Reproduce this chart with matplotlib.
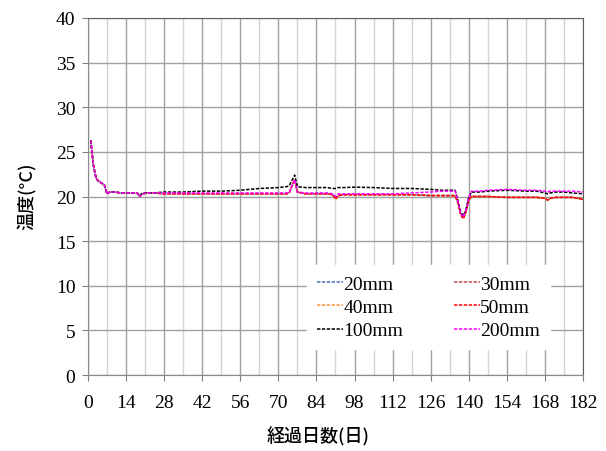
import matplotlib
matplotlib.use('Agg')
import matplotlib.pyplot as plt

days = [1, 2, 3, 4, 5, 6, 7, 8, 10, 12, 14, 16, 18, 19, 20,
        22, 24, 28, 35, 42, 49, 56, 63, 70,
        73, 74, 75, 76, 77, 80, 84, 88, 90, 91, 92, 94, 98,
        105, 112, 119, 126, 130, 134, 135, 136, 137, 138, 139, 140, 141,
        144, 147, 154, 161, 165, 168, 169, 170, 172, 175, 178, 182]

t20 = [26.2, 23.4, 22.0, 21.7, 21.5, 21.3, 20.3, 20.5, 20.5, 20.4, 20.4, 20.4, 20.4, 20.0, 20.3,
       20.4, 20.4, 20.3, 20.3, 20.3, 20.3, 20.3, 20.3, 20.3,
       20.3, 20.4, 21.1, 21.8, 20.5, 20.3, 20.3, 20.3, 20.2, 19.8, 20.1, 20.2, 20.2,
       20.2, 20.2, 20.2, 20.1, 20.1, 20.1, 20.1, 19.3, 18.1, 17.6, 18.4, 19.7, 20.0,
       20.0, 20.0, 19.9, 19.9, 19.9, 19.8, 19.6, 19.8, 19.9, 19.9, 19.9, 19.7]
t30 = [26.3, 23.5, 22.0, 21.7, 21.5, 21.3, 20.3, 20.5, 20.5, 20.4, 20.4, 20.4, 20.4, 20.0, 20.3,
       20.4, 20.4, 20.3, 20.3, 20.3, 20.3, 20.3, 20.3, 20.3,
       20.3, 20.4, 21.2, 21.9, 20.5, 20.3, 20.3, 20.3, 20.2, 19.7, 20.1, 20.2, 20.2,
       20.2, 20.2, 20.2, 20.1, 20.1, 20.1, 20.1, 19.3, 18.0, 17.6, 18.3, 19.6, 20.0,
       20.0, 20.0, 19.9, 19.9, 19.9, 19.8, 19.6, 19.8, 19.9, 19.9, 19.9, 19.7]
t40 = [26.3, 23.5, 22.0, 21.7, 21.5, 21.3, 20.3, 20.5, 20.5, 20.4, 20.4, 20.4, 20.4, 20.0, 20.3,
       20.4, 20.4, 20.3, 20.3, 20.3, 20.3, 20.3, 20.3, 20.3,
       20.3, 20.4, 21.2, 21.9, 20.5, 20.3, 20.3, 20.3, 20.2, 19.7, 20.1, 20.2, 20.2,
       20.2, 20.2, 20.2, 20.1, 20.1, 20.1, 20.1, 19.3, 18.0, 17.5, 18.3, 19.6, 20.0,
       20.0, 20.0, 19.9, 19.9, 19.9, 19.8, 19.6, 19.8, 19.9, 19.9, 19.9, 19.7]
t50 = [26.3, 23.5, 22.0, 21.7, 21.5, 21.3, 20.3, 20.5, 20.5, 20.4, 20.4, 20.4, 20.4, 20.0, 20.3,
       20.4, 20.4, 20.3, 20.3, 20.3, 20.3, 20.3, 20.3, 20.3,
       20.3, 20.4, 21.2, 21.9, 20.5, 20.3, 20.3, 20.3, 20.2, 19.7, 20.1, 20.2, 20.2,
       20.2, 20.2, 20.2, 20.1, 20.1, 20.1, 20.1, 19.3, 18.0, 17.5, 18.3, 19.6, 20.0,
       20.0, 20.0, 19.9, 19.9, 19.9, 19.8, 19.6, 19.8, 19.9, 19.9, 19.9, 19.7]
t100 = [26.3, 23.5, 22.0, 21.7, 21.5, 21.3, 20.3, 20.5, 20.5, 20.4, 20.4, 20.4, 20.4, 20.1, 20.4,
        20.4, 20.4, 20.5, 20.5, 20.6, 20.6, 20.7, 20.9, 21.0,
        21.1, 21.2, 21.8, 22.4, 21.1, 21.0, 21.0, 21.0, 20.9, 20.9, 21.0, 21.0, 21.05,
        21.0, 20.9, 20.9, 20.8, 20.7, 20.7, 20.7, 19.6, 18.3, 17.8, 18.6, 19.9, 20.5,
        20.5, 20.6, 20.7, 20.6, 20.6, 20.4, 20.3, 20.4, 20.5, 20.5, 20.4, 20.3]
t200 = [26.3, 23.5, 22.0, 21.7, 21.5, 21.3, 20.3, 20.5, 20.5, 20.4, 20.4, 20.4, 20.4, 20.0, 20.3,
        20.4, 20.4, 20.4, 20.4, 20.4, 20.4, 20.4, 20.4, 20.4,
        20.4, 20.5, 21.2, 21.9, 20.5, 20.4, 20.4, 20.4, 20.3, 20.0, 20.3, 20.3, 20.3,
        20.3, 20.3, 20.4, 20.5, 20.6, 20.6, 20.6, 19.5, 18.1, 17.7, 18.5, 19.9, 20.6,
        20.6, 20.7, 20.8, 20.7, 20.7, 20.6, 20.5, 20.6, 20.6, 20.6, 20.6, 20.5]

labels = ['20mm', '30mm', '40mm', '50mm', '100mm', '200mm']
colors = ['#4472C4', '#C0504D', '#F79646', '#FF0000', '#000000', '#FF00FF']
series = [t20, t30, t40, t50, t100, t200]

plt.rcParams['font.family'] = ['Liberation Serif', 'DejaVu Sans']
cjk = ['Noto Sans CJK JP', 'DejaVu Sans']

fig = plt.figure(figsize=(6.06, 4.52), dpi=100)
ax = fig.add_axes([0.1452, 0.1681, 0.8168, 0.7899])

handles = []
for vals, lab, col in zip(series, labels, colors):
    h, = ax.plot(days, vals, color=col, lw=1.1, dashes=(2.2, 1.0), label=lab)
    handles.append(h)

ax.set_xlim(0, 182)
ax.set_ylim(0, 40)
ax.set_xticks(range(0, 183, 14))
ax.set_xticks(range(0, 183, 7), minor=True)
ax.set_yticks(range(0, 41, 5))
ax.grid(which='major', color='#a0a0a0', lw=1.0)
ax.grid(which='minor', axis='x', color='#d4d4d4', lw=1.0)
ax.set_axisbelow(True)
ax.tick_params(which='major', direction='out', length=4, color='#808080',
               labelsize=14, labelfontfamily='Liberation Serif')
ax.tick_params(axis='x', pad=10)
ax.tick_params(axis='y', pad=5)
ax.tick_params(which='minor', length=0)
for s in ['left', 'bottom']:
    ax.spines[s].set_color('#8c8c8c')
for s in ['top', 'right']:
    ax.spines[s].set_color('#606060')

# axis titles placed like the original chart
fig.text(318 / 606, 1 - 437 / 452, '経過日数(日)', family=cjk, fontsize=13,
         weight='medium', ha='center', va='center')
fig.text(27 / 606, 1 - 196 / 452, '温度(°C)', family=cjk, fontsize=13,
         weight='medium', ha='center', va='center', rotation=90)

# row-wise order like the original: 20/30, 40/50, 100/200
order = [0, 2, 4, 1, 3, 5]
leg = ax.legend([handles[i] for i in order], [labels[i] for i in order],
                ncol=2, loc='center', bbox_to_anchor=(0.688, 0.19),
                prop={'family': 'Liberation Serif', 'size': 14},
                handlelength=1.35, handletextpad=0.0, labelspacing=0.3,
                columnspacing=2.6, frameon=True, fancybox=False,
                borderpad=0.5, borderaxespad=0)
leg.get_frame().set_edgecolor('white')
leg.get_frame().set_facecolor('white')
leg.get_frame().set_alpha(1.0)

plt.savefig('out.png', dpi=100)
